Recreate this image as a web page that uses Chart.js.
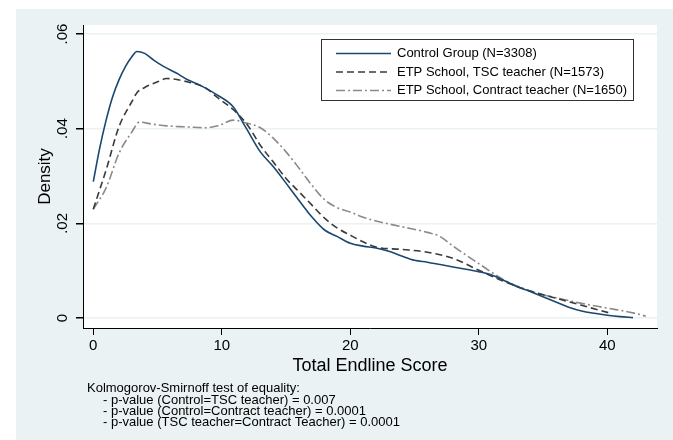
<!DOCTYPE html>
<html><head><meta charset="utf-8">
<script src="https://cdn.jsdelivr.net/npm/chart.js@4"></script>
<style>html,body{margin:0;padding:0;background:#fff}</style>
</head><body>
<canvas id="c" width="673" height="440"></canvas>
<script>
// ---- data ----
const seriesLabels = ["Control Group (N=3308)", "ETP School, TSC teacher (N=1573)", "ETP School, Contract teacher (N=1650)"];
const controlX = [0,0.5,1,1.5,2,2.5,3,3.4,4,4.7,5.5,6.5,7.3,8.3,9.6,10.9,11.9,13,14,15,16,17,18,19,20,21,22,23,24,25,26,27,28,29,30,31,32,33,34,35,36,37,38,39,40,41,42];
const controlY = [.0288,.0359,.0418,.0467,.0503,.0531,.0552,.0563,.0559,.0545,.0531,.0517,.0504,.0492,.0472,.0446,.0401,.0351,.0320,.0285,.0249,.0214,.0186,.0172,.0158,.0152,.0148,.0141,.0131,.0122,.0118,.0113,.0108,.0103,.0098,.0091,.0079,.0066,.0056,.0045,.0034,.0023,.0015,.0010,.0006,.0003,.0001];
const tscX = [0,1,2,3,3.4,4,5,5.7,7.3,8.8,9.6,10.9,12,13,14,15,16,17,18,19,20,21,22,24,26,28,30,32,34,36,38,40,40.3];
const tscY = [.0230,.0313,.0404,.0457,.0476,.0487,.0499,.0506,.0499,.0485,.0467,.0440,.0408,.0365,.0330,.0295,.0267,.0239,.0211,.0190,.0175,.0161,.0150,.0145,.0139,.0126,.0101,.0077,.0057,.0042,.0027,.0012,.0010];
const contractX = [0,1,2,3,3.6,4.5,5.7,7,8.8,9.7,10.9,11.9,13,14,15,16,17,18,19,20,21,22,24,26,27,28,30,32,34,36,38,40,42,43];
const contractY = [.0230,.0275,.0348,.0393,.0414,.0410,.0406,.0404,.0402,.0406,.0418,.0412,.0402,.0380,.0351,.0317,.0281,.0250,.0233,.0224,.0213,.0205,.0193,.0181,.0172,.0152,.0115,.0080,.0057,.0043,.0031,.0021,.0011,.0004];
const xTicks = [0,10,20,30,40];
const yTicks = [0,0.02,0.04,0.06];
const yTickLabels = ["0",".02",".04",".06"];
const xTitle = "Total Endline Score";
const yTitle = "Density";
const noteLines = ["Kolmogorov-Smirnoff test of equality:",
  "- p-value (Control=TSC teacher) = 0.007",
  "- p-value (Control=Contract teacher) = 0.0001",
  "- p-value (TSC teacher=Contract Teacher) = 0.0001"];

const FONT = "'Liberation Sans', Arial, sans-serif";
const pts = (xs, ys) => xs.map((x,i)=>({x, y: ys[i]}));

const decor = {
  id: 'decor',
  beforeDraw(chart){
    const {ctx, chartArea:a} = chart;
    ctx.save();
    ctx.fillStyle = '#fff'; ctx.fillRect(0,0,chart.width,chart.height);
    ctx.fillStyle = '#eaf2f3'; ctx.fillRect(16,9,chart.width-16,chart.height-9);
    ctx.fillStyle = '#fff'; ctx.fillRect(a.left,a.top,a.right-a.left,a.bottom-a.top);
    ctx.restore();
  },
  afterDraw(chart){
    const {ctx, chartArea:a} = chart;
    const ys = chart.scales.y;
    ctx.save();
    ctx.fillStyle = '#000';
    // y tick labels rotated
    ctx.font = `15px ${FONT}`;
    ctx.textAlign = 'center'; ctx.textBaseline = 'middle';
    yTicks.forEach((v,i)=>{
      const py = ys.getPixelForValue(v);
      ctx.save(); ctx.translate(63, py); ctx.rotate(-Math.PI/2);
      ctx.fillText(yTickLabels[i], 0, 0); ctx.restore();
    });
    // y title
    ctx.font = `17px ${FONT}`;
    ctx.save(); ctx.translate(45, (a.top+a.bottom)/2); ctx.rotate(-Math.PI/2);
    ctx.fillText(yTitle, 0, 0); ctx.restore();
    // x title
    ctx.font = `18px ${FONT}`;
    ctx.fillText(xTitle, (a.left+a.right)/2, 366);
    // note
    ctx.font = `13px ${FONT}`;
    ctx.textAlign = 'left';
    const noteY = [388, 400, 411, 422];
    noteLines.forEach((t,i)=> ctx.fillText(t, i===0 ? 87 : 103, noteY[i]));
    // legend
    ctx.fillStyle = '#fff';
    ctx.fillRect(321.5, 39.5, 312, 61);
    ctx.strokeStyle = '#333'; ctx.lineWidth = 1;
    ctx.strokeRect(321.5, 39.5, 312, 61);
    const rowY = [53.5, 72, 90.5];
    chart.data.datasets.forEach((ds,i)=>{
      ctx.save();
      ctx.strokeStyle = ds.borderColor; ctx.lineWidth = ds.borderWidth;
      ctx.setLineDash(ds.borderDash || []);
      ctx.beginPath(); ctx.moveTo(336, rowY[i]); ctx.lineTo(391, rowY[i]); ctx.stroke();
      ctx.restore();
      ctx.fillStyle = '#000';
      ctx.font = `13px ${FONT}`;
      ctx.textBaseline = 'middle';
      ctx.fillText(ds.label, 397, rowY[i]);
    });
    ctx.restore();
  }
};

new Chart(document.getElementById('c'), {
  type: 'line',
  data: {
    datasets: [
      {label: seriesLabels[0], data: pts(controlX, controlY), borderColor: '#1a476f', borderWidth: 1.6, pointRadius: 0, cubicInterpolationMode: 'monotone', fill: false},
      {label: seriesLabels[1], data: pts(tscX, tscY), borderColor: '#3a3a3a', borderWidth: 1.6, borderDash: [7,4], pointRadius: 0, cubicInterpolationMode: 'monotone', fill: false},
      {label: seriesLabels[2], data: pts(contractX, contractY), borderColor: '#8a8a8a', borderWidth: 1.6, borderDash: [9,3,2,3], pointRadius: 0, cubicInterpolationMode: 'monotone', fill: false}
    ]
  },
  options: {
    responsive: false, animation: false, devicePixelRatio: 1,
    layout: {padding: {left: 16, top: 25, right: 16, bottom: 72}},
    plugins: {legend: {display: false}, tooltip: {enabled: false}},
    scales: {
      x: {
        type: 'linear', min: -0.8, max: 43.87,
        afterBuildTicks: s => { s.ticks = xTicks.map(v=>({value: v})); },
        afterFit: s => { s.height = 40; },
        grid: {drawOnChartArea: false, tickLength: 7, tickColor: '#000', color: '#000'},
        border: {color: '#000', width: 1},
        ticks: {color: '#000', font: {size: 15, family: FONT}, padding: 2, maxRotation: 0, autoSkip: false}
      },
      y: {
        type: 'linear', min: -0.0021, max: 0.0619,
        afterBuildTicks: s => { s.ticks = yTicks.map(v=>({value: v})); },
        afterFit: s => { s.width = 67; },
        grid: {color: '#eaf2f3', lineWidth: 1.5, tickLength: 7, tickColor: '#000'},
        border: {color: '#000', width: 1},
        ticks: {display: false}
      }
    }
  },
  plugins: [decor]
});
</script>
</body></html>
